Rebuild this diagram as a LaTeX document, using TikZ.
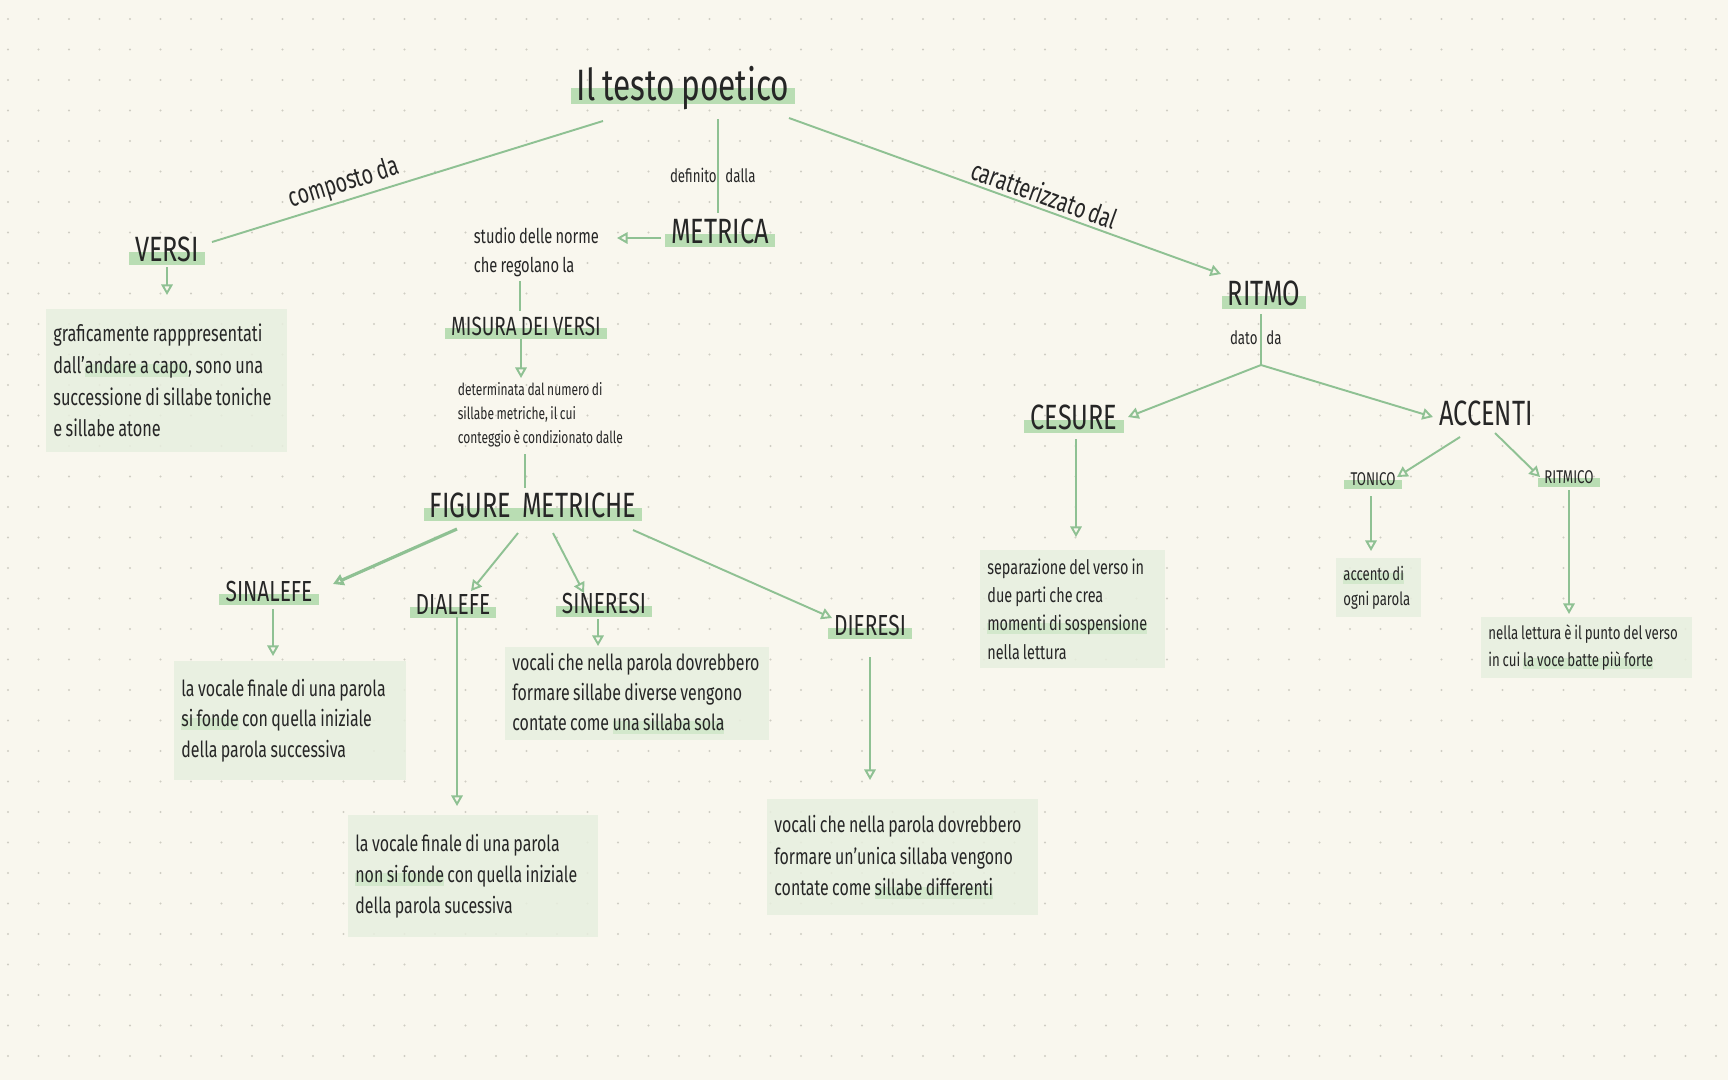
\documentclass[tikz,border=0pt]{standalone}
\usepackage{fontspec}
\setmainfont{Fira Sans}[FakeStretch=0.72, WordSpace=0.8]
\usetikzlibrary{arrows.meta}

\pgfdeclarelayer{paper}
\pgfdeclarelayer{marker}
\pgfsetlayers{paper,marker,main}

\definecolor{paperbg}{HTML}{F9F7EE}
\definecolor{dotgray}{HTML}{CFCDC3}
\definecolor{linegreen}{HTML}{8FC193}
\definecolor{hlgreen}{HTML}{B9DDB3}
\definecolor{hlsoft}{HTML}{D3E8CC}
\definecolor{boxgreen}{HTML}{E7EFDF}
\definecolor{ink}{HTML}{262626}

% soft marker under single words inside the boxes
\newcommand{\hlw}[1]{\leavevmode\setbox0=\hbox{#1}\rlap{\color{hlsoft}\rule[-0.3ex]{\wd0}{1.1ex}}\box0\relax}

\begin{document}
\begin{tikzpicture}[x=0.02cm, y=-0.02cm, text=ink,
    conn/.style={draw=linegreen, line width=1.1pt},
    arr/.style={conn, -{Triangle[open, length=6pt, width=6.5pt]}},
    titleword/.style={font=\fontsize{25}{30}\selectfont},
    bigword/.style={font=\fontsize{20}{24}\selectfont},
    midword/.style={font=\fontsize{16.5}{20}\selectfont},
    smallword/.style={font=\fontsize{10.5}{13}\selectfont},
    linkword/.style={font=\fontsize{15.5}{18}\selectfont, inner sep=0pt},
    note/.style={align=left, inner sep=2pt},
    infobox/.style={fill=boxgreen, fill opacity=0.85, text opacity=1, anchor=north west,
      align=left, inner xsep=4pt, inner ysep=0pt,
      execute at begin node={\spaceskip=0pt\xspaceskip=0pt\hyphenpenalty=10000\relax}},
  ]
  \useasboundingbox (0,0) rectangle (1728,1080);

  % dotted paper
  \begin{pgfonlayer}{paper}
    \fill[paperbg] (0,0) rectangle (1728,1080);
    \foreach \i in {0,...,56}
      \foreach \j in {0,...,34}
        \fill[dotgray] (8+30.5*\i, 19+30.5*\j) circle (1.1);
  \end{pgfonlayer}

  % main words
  \node[titleword] (poesia) at (683,88) {Il testo poetico};
  \node[bigword] (versi) at (167,249) {VERSI};
  \node[bigword] (metrica) at (720,231) {METRICA};
  \node[bigword] (ritmo) at (1264,293) {RITMO};
  \node[note, anchor=west, font=\fontsize{11.6}{16.5}\selectfont] (norme) at (470,252)
    {studio delle norme\\che regolano la};
  \node[midword, font=\fontsize{15}{18}\selectfont] (misura) at (526,326) {MISURA DEI VERSI};
  \node[note, anchor=west, font=\fontsize{9.5}{13.6}\selectfont] (conteggio) at (454,415)
    {determinata dal numero di\\sillabe metriche, il cui\\conteggio è condizionato dalle};
  \node[bigword] (figure) at (533,505) {FIGURE\ \ METRICHE};
  \node[midword] (sinalefe) at (269,591) {SINALEFE};
  \node[midword] (dialefe) at (453,604) {DIALEFE};
  \node[midword] (sineresi) at (604,603) {SINERESI};
  \node[midword] (dieresi) at (870,625) {DIERESI};
  \node[bigword] (cesure) at (1074,417) {CESURE};
  \node[bigword] (accenti) at (1486,413) {ACCENTI};
  \node[smallword] (tonico) at (1373,479) {TONICO};
  \node[smallword] (ritmico) at (1569,477) {RITMICO};
  \coordinate (split) at (1261,365);

  % boxes
  \node[infobox, text width=129pt, minimum height=81pt, font=\fontsize{12.9}{18}\selectfont] (bversi) at (46,309)
    {graficamente rapppresentati\\dall’\hlw{andare a capo}, sono una\\successione di sillabe toniche\\e sillabe atone};
  \node[infobox, text width=124pt, minimum height=67.5pt, font=\fontsize{12.6}{17.6}\selectfont] (bsinalefe) at (174,661)
    {la vocale finale di una parola\\\hlw{si fonde} con quella iniziale\\della parola successiva};
  \node[infobox, text width=134pt, minimum height=69pt, font=\fontsize{12.6}{17.6}\selectfont] (bdialefe) at (348,815)
    {la vocale finale di una parola\\\hlw{non si fonde} con quella iniziale\\della parola sucessiva};
  \node[infobox, text width=142pt, minimum height=53pt, font=\fontsize{12.6}{17}\selectfont] (bsineresi) at (505,647)
    {vocali che nella parola dovrebbero\\formare sillabe diverse vengono\\contate come \hlw{una sillaba sola}};
  \node[infobox, text width=146pt, minimum height=66pt, font=\fontsize{12.6}{18}\selectfont] (bdieresi) at (767,799)
    {vocali che nella parola dovrebbero\\formare un’unica sillaba vengono\\contate come \hlw{sillabe differenti}};
  \node[infobox, text width=97pt, minimum height=67pt, font=\fontsize{11.4}{16}\selectfont] (bcesure) at (980,550)
    {separazione del verso in\\due parti che crea\\\hlw{momenti di sospensione}\\nella lettura};
  \node[infobox, text width=40pt, minimum height=33.5pt, font=\fontsize{10.4}{14}\selectfont] (btonico) at (1336,558)
    {\hlw{accento di}\\ogni parola};
  \node[infobox, text width=112pt, minimum height=34.5pt, font=\fontsize{10.5}{15}\selectfont] (britmico) at (1481,617)
    {nella lettura è il punto del verso\\in cui \hlw{la voce batte più forte}};

  % links from the title
  \draw[conn] ([shift={(45,-7)}]versi.center) -- node[sloped, above=1.5pt, pos=0.35, linkword] {composto da} ([shift={(-80,33)}]poesia.center);
  \draw[conn] ([shift={(35,31)}]poesia.center) -- node[smallword, xshift=-3pt, pos=0.6] {definito\hspace{5pt}dalla} ([shift={(-2,-18)}]metrica.center);
  \draw[arr] ([shift={(106,30)}]poesia.center) -- node[sloped, above=2pt, pos=0.58, linkword] {caratterizzato dal} ([shift={(-43,-19)}]ritmo.center);

  % metrica branch
  \draw[arr] ([shift={(-59,7)}]metrica.center) -- ([shift={(147,-14)}]norme.west);
  \draw[conn] ([shift={(50,29)}]norme.west) -- ([shift={(-6,-15)}]misura.center);
  \draw[arr] ([shift={(-5,13)}]misura.center) -- ([shift={(67,-37)}]conteggio.west);
  \draw[conn] ([shift={(71,39)}]conteggio.west) -- ([shift={(-8,-17)}]figure.center);

  \draw[arr, line width=1.8pt] ([shift={(-76,24)}]figure.center) -- ([shift={(64,-7)}]sinalefe.center);
  \draw[arr] ([shift={(-15,28)}]figure.center) -- ([shift={(18,-13)}]dialefe.center);
  \draw[arr] ([shift={(20,28)}]figure.center) -- ([shift={(-20,-10)}]sineresi.center);
  \draw[arr] ([shift={(100,25)}]figure.center) -- ([shift={(-38,-7)}]dieresi.center);

  % ritmo branch
  \draw[conn] ([shift={(-3,21)}]ritmo.center) -- node[smallword, xshift=-3pt, pos=0.47] {dato\hspace{5pt}da} (split);
  \draw[arr] (split) -- ([shift={(54,0)}]cesure.center);
  \draw[arr] (split) -- ([shift={(-53,4)}]accenti.center);
  \draw[arr] ([shift={(-26,24)}]accenti.center) -- ([shift={(24,-2)}]tonico.center);
  \draw[arr] ([shift={(9,20)}]accenti.center) -- ([shift={(-29,0)}]ritmico.center);

  % down to the boxes
  \draw[arr] ([shift={(0,18)}]versi.center) -- ([shift={(121,-14)}]bversi.north west);
  \draw[arr] ([shift={(4,18)}]sinalefe.center) -- ([shift={(99,-5)}]bsinalefe.north west);
  \draw[arr] ([shift={(4,13)}]dialefe.center) -- ([shift={(109,-9)}]bdialefe.north west);
  \draw[arr] ([shift={(-6,16)}]sineresi.center) -- ([shift={(93,-1)}]bsineresi.north west);
  \draw[arr] ([shift={(0,32)}]dieresi.center) -- ([shift={(103,-19)}]bdieresi.north west);
  \draw[arr] ([shift={(2,22)}]cesure.center) -- ([shift={(96,-13)}]bcesure.north west);
  \draw[arr] ([shift={(-2,17)}]tonico.center) -- ([shift={(35,-7)}]btonico.north west);
  \draw[arr] ([shift={(0,13)}]ritmico.center) -- ([shift={(88,-3)}]britmico.north west);

  % marker strokes under the key words
  \begin{pgfonlayer}{marker}
    \foreach \n/\h in {poesia/7pt, versi/5pt, metrica/5pt, ritmo/5pt, cesure/5pt, figure/5pt,
        misura/4pt, sinalefe/4pt, dialefe/4pt, sineresi/4pt, dieresi/4pt, tonico/3pt, ritmico/3pt}
      \fill[hlgreen] ([yshift=-2pt]\n.base west) rectangle ([yshift=\h]\n.base east);
  \end{pgfonlayer}
\end{tikzpicture}
\end{document}
